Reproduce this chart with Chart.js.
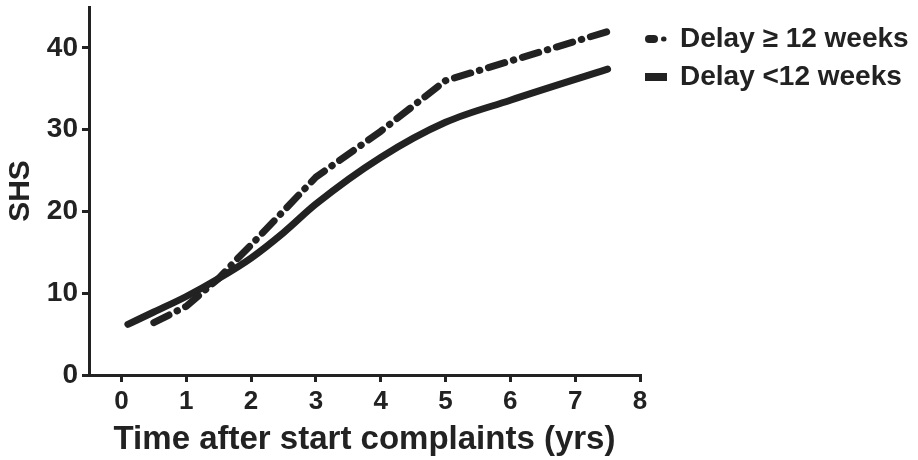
<!DOCTYPE html>
<html>
<head>
<meta charset="utf-8">
<script src="https://cdn.jsdelivr.net/npm/chart.js@4"></script>
<style>
  html, body { margin: 0; padding: 0; background: #fff; }
  #wrap { width: 918px; height: 460px; }
</style>
</head>
<body>
<div id="wrap"><canvas id="shsChart"></canvas></div>
<script>
const seriesNames = ['Delay \u2265 12 weeks', 'Delay <12 weeks'];

// Delay >= 12 weeks (dash-dot)
const lateYears = [0.5, 1, 1.5, 1.75, 2, 3, 4, 5, 6, 7.5];
const lateSHS = [6.4, 8.4, 11.8, 13.9, 15.9, 24.2, 29.8, 36.0, 38.4, 42.0];

// Delay < 12 weeks (solid)
const earlyYears = [0.1, 0.5, 1, 1.5, 2, 2.5, 3, 4, 5, 6, 7.5];
const earlySHS = [6.2, 7.7, 9.6, 11.8, 14.3, 17.4, 20.9, 26.6, 30.9, 33.6, 37.4];

const xTicks = [0, 1, 2, 3, 4, 5, 6, 7, 8];
const yTicks = [0, 10, 20, 30, 40];

const ink = '#222222';
const fontFamily = '"Liberation Sans", Arial, sans-serif';

const toPoints = (xs, ys) => xs.map((x, i) => ({ x: x, y: ys[i] }));

// legend drawn by hand so it sits right of the plot like the original
const sideLegend = {
  id: 'sideLegend',
  afterDraw(chart) {
    const ctx = chart.ctx;
    const rows = [39, 77];
    chart.data.datasets.forEach((ds, i) => {
      const y = rows[i];
      ctx.save();
      ctx.strokeStyle = ds.borderColor;
      ctx.lineWidth = 8;
      if (ds.borderDash && ds.borderDash.length) {
        ctx.lineCap = 'round';
        ctx.beginPath();
        ctx.moveTo(649, y);
        ctx.lineTo(654, y);
        ctx.stroke();
        ctx.lineWidth = 5;
        ctx.beginPath();
        ctx.moveTo(663.5, y);
        ctx.lineTo(664, y);
        ctx.stroke();
      } else {
        ctx.lineCap = 'butt';
        ctx.beginPath();
        ctx.moveTo(645, y);
        ctx.lineTo(667, y);
        ctx.stroke();
      }
      ctx.restore();

      ctx.save();
      ctx.fillStyle = ink;
      ctx.font = 'bold 28px ' + fontFamily;
      ctx.textBaseline = 'middle';
      ctx.textAlign = 'left';
      ctx.fillText(ds.label, 680, y);
      ctx.restore();
    });
  }
};

new Chart(document.getElementById('shsChart'), {
  type: 'line',
  data: {
    datasets: [
      {
        label: seriesNames[0],
        data: toPoints(lateYears, lateSHS),
        borderColor: ink,
        borderWidth: 7,
        borderDash: [17, 9, 0.5, 9],
        borderCapStyle: 'round',
        borderJoinStyle: 'round',
        pointRadius: 0,
        tension: 0,
        fill: false
      },
      {
        label: seriesNames[1],
        data: toPoints(earlyYears, earlySHS),
        borderColor: ink,
        borderWidth: 7,
        borderCapStyle: 'round',
        borderJoinStyle: 'round',
        pointRadius: 0,
        cubicInterpolationMode: 'monotone',
        fill: false
      }
    ]
  },
  options: {
    responsive: true,
    maintainAspectRatio: false,
    animation: false,
    layout: { padding: { top: 7, right: 278, bottom: 0, left: 0 } },
    plugins: {
      legend: { display: false },
      tooltip: { enabled: false }
    },
    scales: {
      x: {
        type: 'linear',
        min: -0.5,
        max: 8,
        afterBuildTicks: scale => { scale.ticks = xTicks.map(v => ({ value: v })); },
        afterFit: scale => {
          scale.height = 85;
          scale.paddingLeft = 0;
          scale.paddingRight = 0;
        },
        border: { display: true, color: ink, width: 3 },
        grid: { display: true, drawOnChartArea: false, drawTicks: true, tickLength: 7, color: ink, lineWidth: 3 },
        ticks: { color: ink, padding: 4, maxRotation: 0, font: { family: fontFamily, size: 26, weight: 'bold' } },
        title: {
          display: true,
          text: 'Time after start complaints (yrs)',
          color: ink,
          padding: { top: 0, bottom: 0 },
          font: { family: fontFamily, size: 33, weight: 'bold' }
        }
      },
      y: {
        min: 0,
        max: 45,
        afterBuildTicks: scale => { scale.ticks = yTicks.map(v => ({ value: v })); },
        afterFit: scale => {
          scale.width = 89;
          scale.paddingTop = 0;
          scale.paddingBottom = 0;
        },
        border: { display: true, color: ink, width: 3 },
        grid: { display: true, drawOnChartArea: false, drawTicks: true, tickLength: 7, color: ink, lineWidth: 3 },
        ticks: { color: ink, padding: 4, font: { family: fontFamily, size: 28, weight: 'bold' } },
        title: {
          display: true,
          text: 'SHS',
          color: ink,
          padding: { top: 3, bottom: 0 },
          font: { family: fontFamily, size: 30, weight: 'bold' }
        }
      }
    }
  },
  plugins: [sideLegend]
});
</script>
</body>
</html>
